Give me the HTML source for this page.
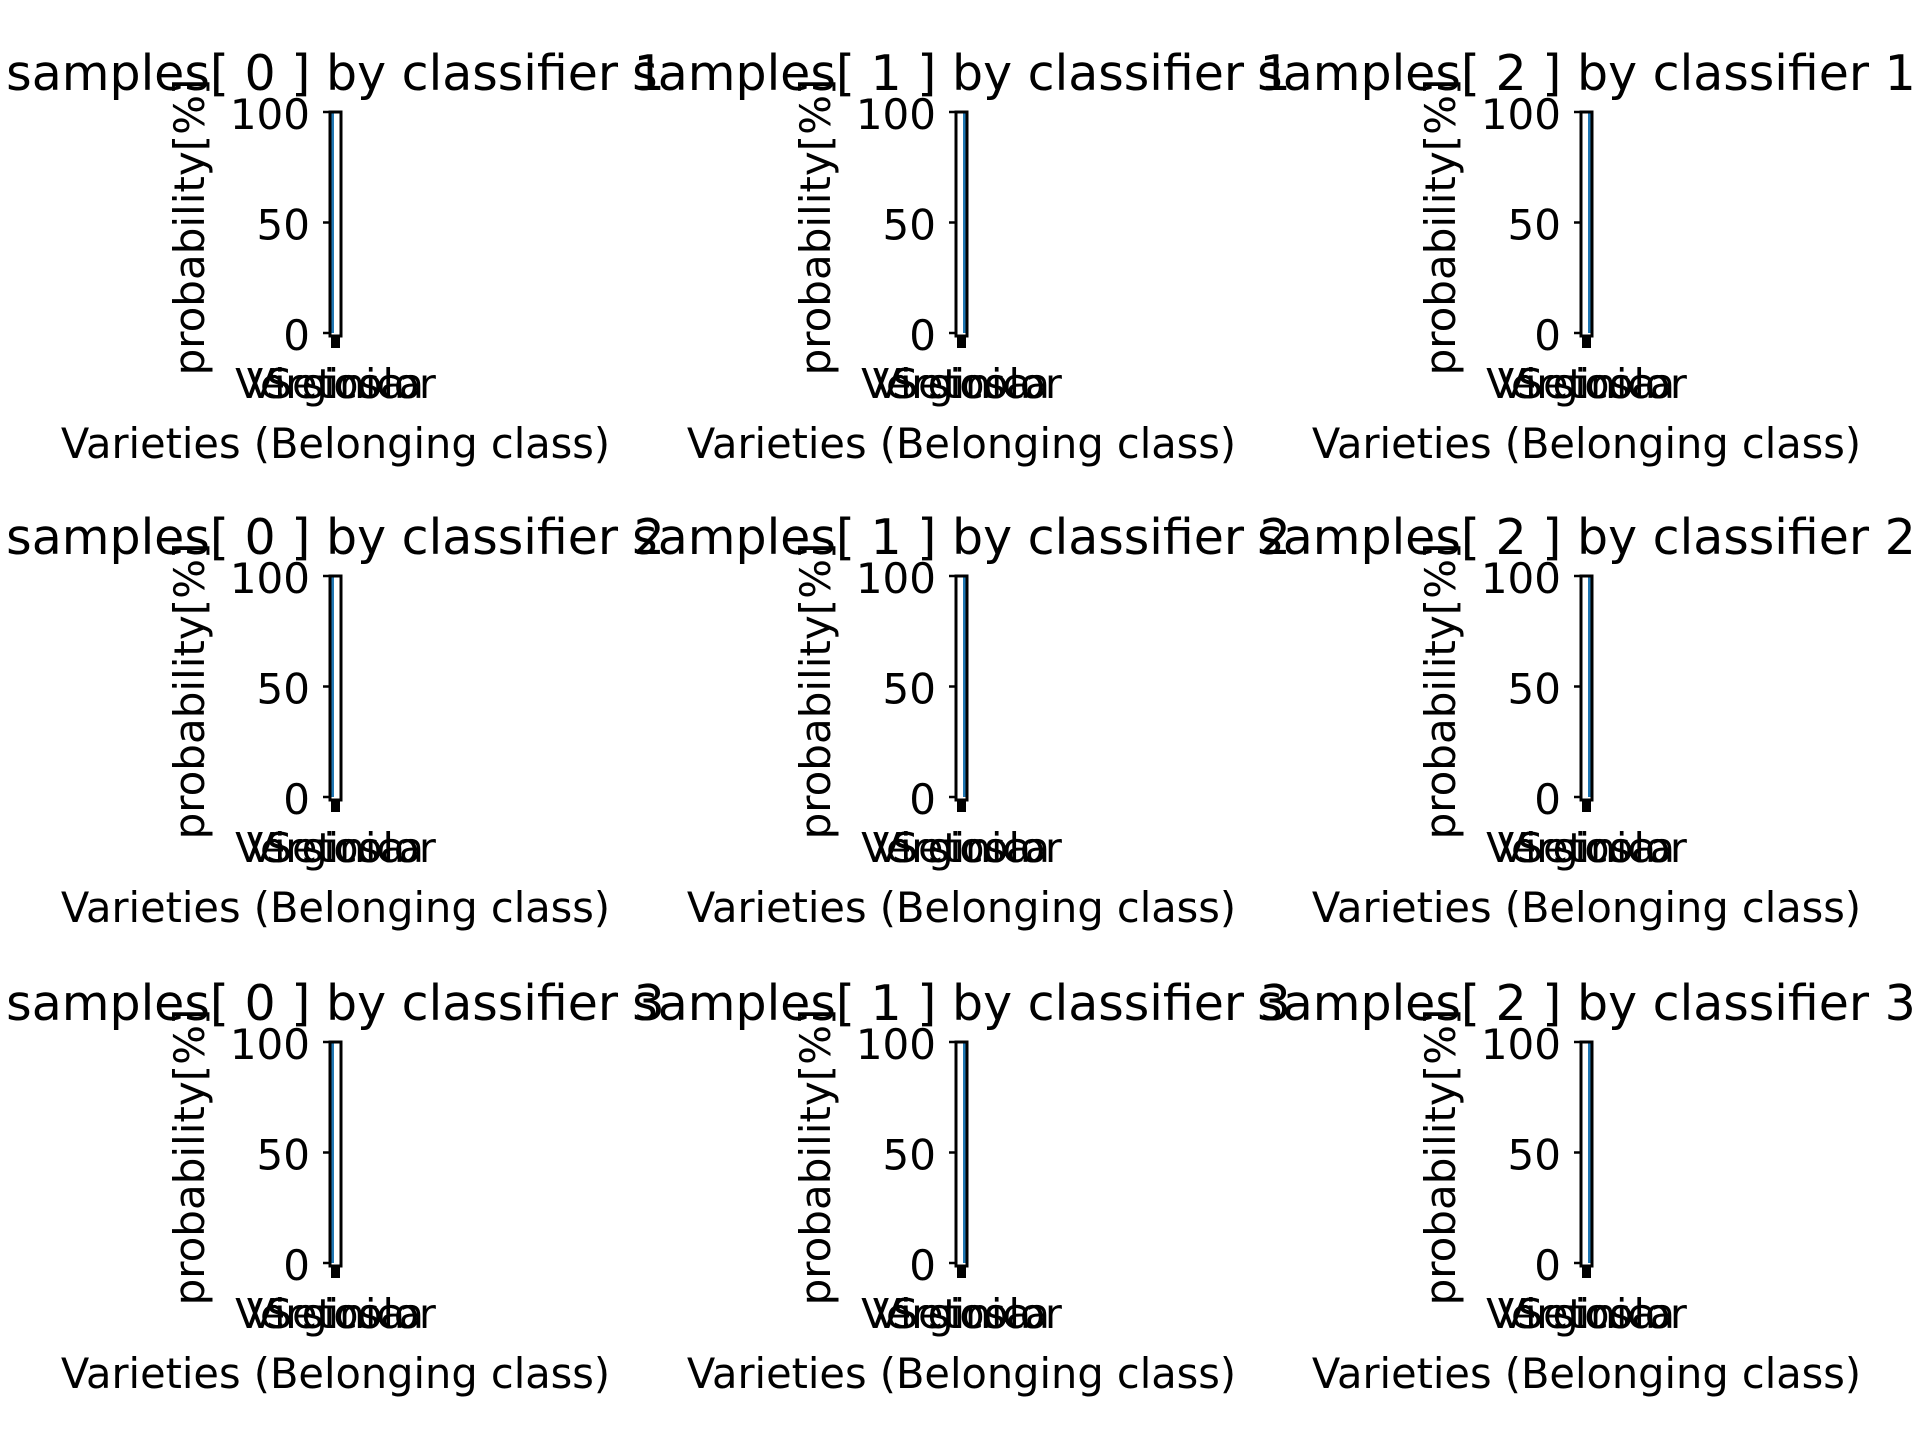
<!DOCTYPE html>
<html><head><meta charset="utf-8"><style>
html,body{margin:0;padding:0;background:#fff;width:1920px;height:1440px;overflow:hidden}
text{font-family:"DejaVu Sans","Liberation Sans",sans-serif;fill:#000}
</style></head><body>
<svg id="chart" width="1920" height="1440" xmlns="http://www.w3.org/2000/svg"></svg>
<script>
const categories = ["Setosa","Versicolor","Virginica"];
const sampleIdx = [0,1,2];
const classifierIdx = [1,2,3];
const probs = [
 [[100,0,0],[0,0,100],[0,0,100]],
 [[100,0,0],[0,0,100],[0,0,100]],
 [[100,0,0],[0,0,100],[0,0,100]]
];
const yTicks = [0,50,100];
const NS="http://www.w3.org/2000/svg";
const svg=document.getElementById('chart');
function mk(t,a,p){const e=document.createElementNS(NS,t);for(const k in a)e.setAttribute(k,a[k]);(p||svg).appendChild(e);return e;}
const colX=[330,956,1581], rowY=[112,576,1042], W=11, H=224;
for(let r=0;r<3;r++)for(let c=0;c<3;c++){
  const g=mk('g',{});
  
  
  const x0=colX[c], top=rowY[r], y0=top+H-3;
  const ys=v=>y0-(v/100)*(H-3);
  const xs=i=>x0+1+i*(W-2)/3;
  probs[r][c].forEach((v,i)=>{
    const b=mk('rect',{x:xs(i),y:ys(v),width:(W-2)/3,height:y0-ys(v),fill:'#1f77b4'},g);
    
    
  });
  const fr=mk('rect',{x:x0,y:top,width:W,height:H,fill:'none',stroke:'#000','stroke-width':3},g);
  
  
  mk('rect',{x:x0+1,y:top+H,width:W-2,height:12,fill:'#000'},g);
  yTicks.forEach(t=>{
    mk('line',{x1:x0-7,x2:x0,y1:ys(t),y2:ys(t),stroke:'#000','stroke-width':2.5},g);
    const tl=mk('text',{x:x0-20,y:ys(t)+17,'font-size':42,'text-anchor':'end'},g);
    tl.textContent=t;
    
    
  });
  categories.forEach((cat,i)=>{
    const xl=mk('text',{x:x0+W/2,y:top+H+62,'font-size':41,'text-anchor':'middle'},g);
    xl.textContent=cat;
    
    
  });
  const yl=mk('text',{x:0,y:0,'font-size':42,'text-anchor':'middle',transform:`translate(${x0-126},${top+115}) rotate(-90)`},g);
  yl.textContent='probability[%]';
  
  
  const xt=mk('text',{x:x0+W/2,y:top+H+122,'font-size':41.5,'text-anchor':'middle'},g);
  xt.textContent='Varieties (Belonging class)';
  
  
  const ti=mk('text',{x:x0+W/2,y:top-22,'font-size':49,'text-anchor':'middle'},g);
  ti.textContent='samples[ '+sampleIdx[c]+' ] by classifier '+classifierIdx[r];
  
  
}
</script>
</body></html>
